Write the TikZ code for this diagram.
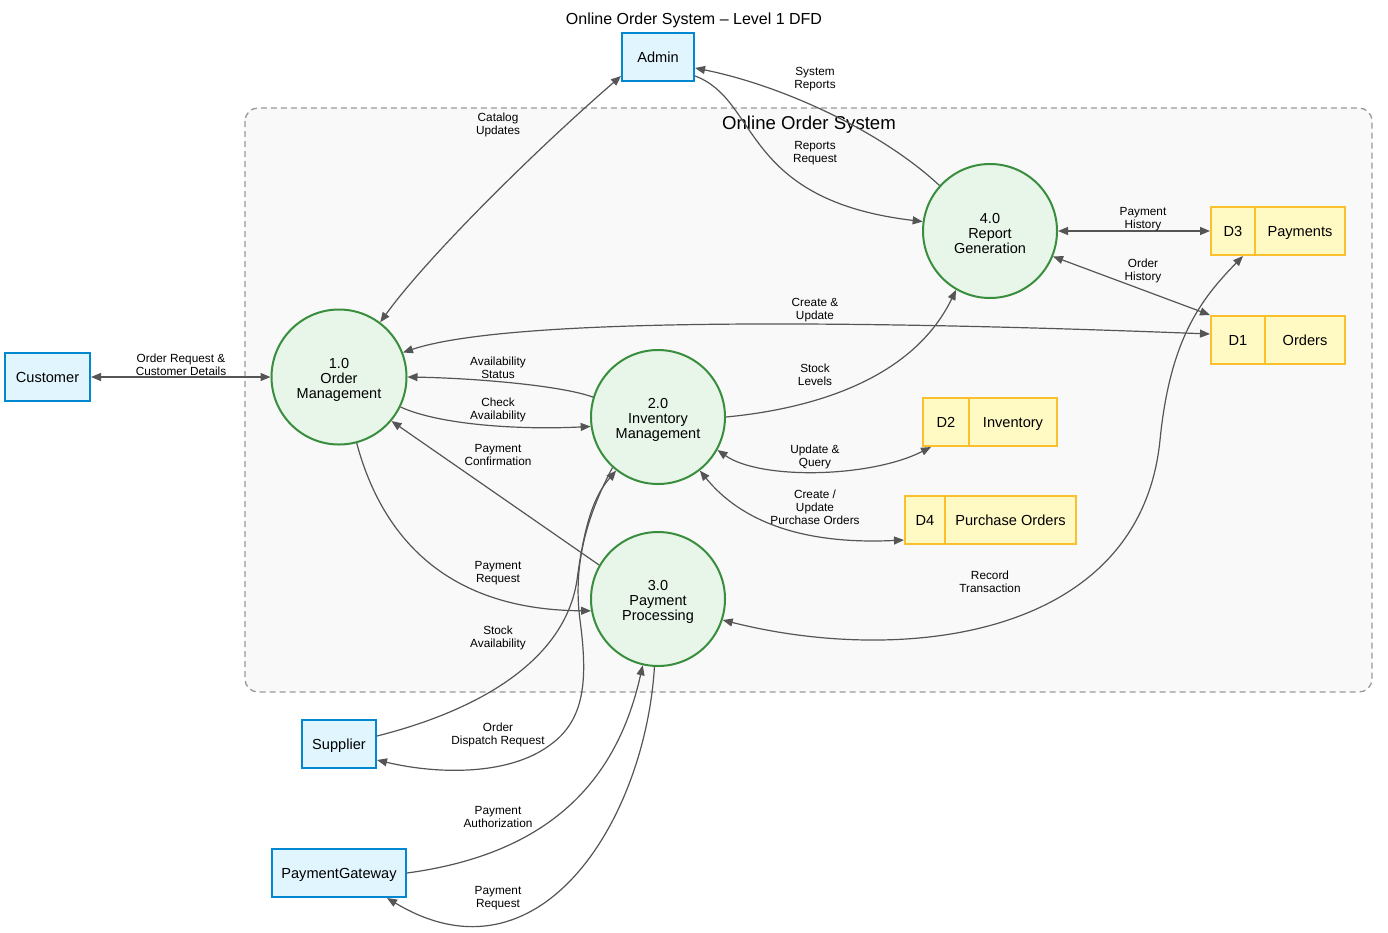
\documentclass[tikz,border=0pt]{standalone}
\usepackage{fontspec}
\setmainfont{Liberation Sans}
\usetikzlibrary{arrows.meta}
\definecolor{entfill}{HTML}{E1F5FE}
\definecolor{entdraw}{HTML}{0288D1}
\definecolor{procfill}{HTML}{E8F5E9}
\definecolor{procdraw}{HTML}{388E3C}
\definecolor{storefill}{HTML}{FFF9C4}
\definecolor{storedraw}{HTML}{FBC02D}
\definecolor{linecol}{HTML}{555555}
\definecolor{bndfill}{HTML}{F9F9F9}
\definecolor{bnddraw}{HTML}{999999}
\newcommand{\toppad}{\rule{0pt}{15pt}}
\tikzset{
  entity/.style={draw=entdraw, fill=entfill, line width=2pt, minimum height=48pt, inner sep=0pt, text height=10.5pt, text depth=0pt, font=\fontsize{14.6}{16}\selectfont},
  process/.style={circle, draw=procdraw, fill=procfill, line width=2pt, minimum size=135pt, inner sep=0pt, align=center, font=\fontsize{14.5}{15}\selectfont},
  store/.style={draw=storedraw, fill=storefill, line width=2pt, minimum height=48pt, inner sep=0pt, text height=10.5pt, text depth=0pt, font=\fontsize{14.6}{16}\selectfont},
  flow/.style={draw=linecol, line width=1.2pt},
  flabel/.style={align=center, inner sep=0pt, font=\fontsize{11.8}{13}\selectfont, text=black},
  >={Triangle[length=10pt,width=8pt]}
}
\begin{document}
\begin{tikzpicture}[x=1pt,y=-1pt]
\useasboundingbox (0,0) rectangle (1388,932);
\fill[white] (0,0) rectangle (1388,932);
% boundary
\draw[draw=bnddraw, fill=bndfill, line width=1.3pt, dash pattern=on 6pt off 4pt, rounded corners=13pt] (245,108) rectangle (1372,692);
\node[font=\fontsize{16}{18}\selectfont] (title) at (694,20) {Online Order System – Level 1 DFD};
\node[font=\fontsize{18.6}{20}\selectfont] (bndlabel) at (809,125) {Online Order System};

% external entities
\node[entity, minimum width=72pt] (admin) at (658,57) {Admin};
\node[entity, minimum width=85pt] (cust) at (47.5,377) {Customer};
\node[entity, minimum width=74pt] (sup) at (339,744) {Supplier};
\node[entity, minimum width=134pt] (pg) at (339,873) {PaymentGateway};

% processes
\node[process] (p1) at (339,377) {\toppad 1.0\\Order\\Management};
\node[process, minimum size=134pt] (p2) at (658,417) {\toppad 2.0\\Inventory\\Management};
\node[process, minimum size=134pt] (p3) at (658,599) {\toppad 3.0\\Payment\\Processing};
\node[process, minimum size=134pt] (p4) at (990,231) {\toppad 4.0\\Report\\Generation};

% data stores
\node[store, minimum width=44pt] (d3id) at (1233,231) {D3};
\node[store, minimum width=90pt] (d3) at (1300,231) {Payments};
\node[store, minimum width=54pt] (d1id) at (1238,340) {D1};
\node[store, minimum width=80pt] (d1) at (1305,340) {Orders};
\node[store, minimum width=46pt] (d2id) at (946,422) {D2};
\node[store, minimum width=88pt] (d2) at (1013,422) {Inventory};
\node[store, minimum width=40pt] (d4id) at (925,520) {D4};
\node[store, minimum width=131pt] (d4) at (1010.5,520) {Purchase Orders};

% flows
\draw[flow,<->] (cust.east) -- (p1.west);
\draw[flow,<->] (p1.53) .. controls (425,260) and (530,155) .. ([yshift=6pt]admin.south west);
\draw[flow,->] ([yshift=6pt]admin.south east) .. controls (760,100) and (740,200) .. (p4.172);
\draw[flow,->] (p4.138) .. controls (880,130) and (780,85) .. ([yshift=-11pt]admin.east);
\draw[flow,<->] (p4.east) -- (d3id.west);
\draw[flow,<->] (p4.-22) -- (d1id.north west);
\draw[flow,<->] (p1.21) .. controls (500,320) and (800,318) .. ([yshift=6pt]d1id.west);
\draw[flow,->] (p2.163) .. controls (560,385) and (470,378) .. (p1.0);
\draw[flow,->] (p1.-26) .. controls (440,425) and (520,430) .. (p2.188);
\draw[flow,->] (p3.150) -- (p1.-40);
\draw[flow,->] (p2.east) .. controls (800,410) and (910,385) .. (p4.-120);
\draw[flow,<->] (p2.-29) .. controls (760,480) and (870,478) .. ([xshift=9pt]d2id.south west);
\draw[flow,<->] (p2.-52) .. controls (740,520) and (800,545) .. ([yshift=5pt]d4id.south west);
\draw[flow,->] (p1.-75) .. controls (380,530) and (440,610) .. (p3.190);
\draw[flow,<-] (p2.-128) .. controls (595,495) and (585,520) .. (577,580) .. controls (565,660) and (480,710) .. ([yshift=8pt]sup.east);
\draw[flow,->] (p2.-132) .. controls (590,510) and (572,560) .. (580,620) .. controls (588,680) and (585,720) .. (550,745) .. controls (510,775) and (440,775) .. ([yshift=-16pt]sup.east);
\draw[flow,<->] (p3.-18) .. controls (900,665) and (1140,640) .. (1160,440) .. controls (1170,340) and (1200,300) .. ([xshift=10pt]d3id.south);
\draw[flow,->] (pg.east) .. controls (540,855) and (615,790) .. (p3.-103);
\draw[flow,->] (p3.-93) .. controls (645,820) and (540,990) .. ([xshift=-20pt]pg.south east);

% labels
\node[flabel] (l1) at (181,365) {Order Request \&\\Customer Details};
\node[flabel] (l2) at (498,125) {Catalog\\Updates};
\node[flabel] (l3) at (815,79) {System\\Reports};
\node[flabel] (l4) at (815,153) {Reports\\Request};
\node[flabel] (l5) at (1143,219) {Payment\\History};
\node[flabel] (l6) at (1143,271) {Order\\History};
\node[flabel] (l7) at (815,310) {Create \&\\Update};
\node[flabel] (l8) at (498,368) {Availability\\Status};
\node[flabel] (l9) at (498,410) {Check\\Availability};
\node[flabel] (l10) at (498,455) {Payment\\Confirmation};
\node[flabel] (l11) at (815,375) {Stock\\Levels};
\node[flabel] (l12) at (815,457) {Update \&\\Query};
\node[flabel] (l13) at (815,507) {Create /\\Update\\Purchase Orders};
\node[flabel] (l14) at (498,573) {Payment\\Request};
\node[flabel] (l15) at (498,638) {Stock\\Availability};
\node[flabel] (l16) at (990,582) {Record\\Transaction};
\node[flabel] (l17) at (498,735) {Order\\Dispatch Request};
\node[flabel] (l18) at (498,817) {Payment\\Authorization};
\node[flabel] (l19) at (498,898) {Payment\\Request};
\end{tikzpicture}
\end{document}
